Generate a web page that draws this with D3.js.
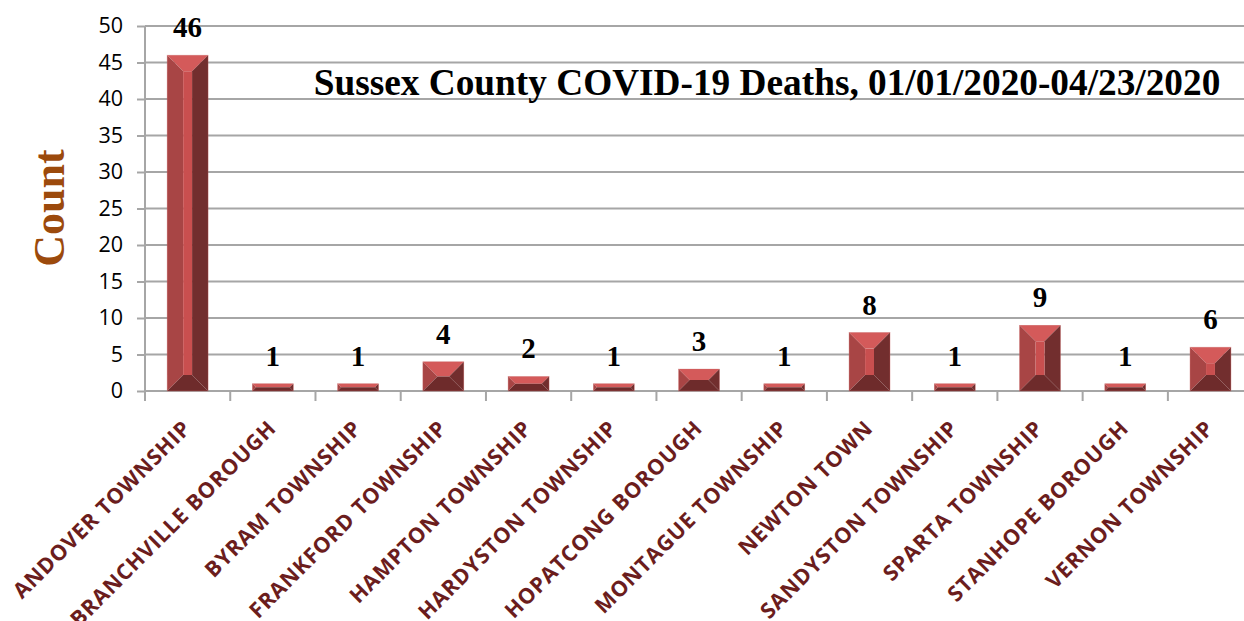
<!DOCTYPE html>
<html><head><meta charset="utf-8">
<script src="https://cdn.jsdelivr.net/npm/d3@7"></script>
<style>body{margin:0;background:#fff}svg{display:block}</style>
</head><body>
<svg id="c" width="1244" height="621"></svg>
<script>
const categories = ["ANDOVER TOWNSHIP","BRANCHVILLE BOROUGH","BYRAM TOWNSHIP","FRANKFORD TOWNSHIP","HAMPTON TOWNSHIP","HARDYSTON TOWNSHIP","HOPATCONG BOROUGH","MONTAGUE TOWNSHIP","NEWTON TOWN","SANDYSTON TOWNSHIP","SPARTA TOWNSHIP","STANHOPE BOROUGH","VERNON TOWNSHIP"];
const deaths = [46,1,1,4,2,1,3,1,8,1,9,1,6];
const yTicks = [0,5,10,15,20,25,30,35,40,45,50];
const title = "Sussex County COVID-19 Deaths, 01/01/2020-04/23/2020";
const yLabel = "Count";

const svg = d3.select("#c");
const L = 145, T = 26, B = 391, R = 145 + 13*85.24;
const x = d3.scaleBand().domain(categories).range([L, R]).paddingInner(0.52).paddingOuter(0.26);
const xb = d3.scaleBand().domain(categories).range([L, R]);
const y = d3.scaleLinear().domain([0,50]).range([B, T]);

// gridlines
svg.append("g").selectAll("line").data(yTicks.filter(d=>d>0)).join("line")
  .attr("x1", L).attr("x2", 1244).attr("y1", d=>y(d)).attr("y2", d=>y(d))
  .attr("stroke", "#a6a6a6").attr("stroke-width", 2);

// y axis
const ya = svg.append("g").attr("transform", `translate(${L},0)`)
  .call(d3.axisLeft(y).tickValues(yTicks).tickSize(8).tickPadding(14));
ya.select(".domain").attr("stroke","#a6a6a6").attr("stroke-width",2).attr("d",`M0,${T}V${B+10}`);
ya.selectAll(".tick line").attr("stroke","#a6a6a6").attr("stroke-width",2);
ya.selectAll("text").attr("font-family","'Open Sans', sans-serif").attr("font-size",21.5).attr("fill","#000");

// x axis
const xa = svg.append("g").attr("transform", `translate(0,${B})`);
xa.append("line").attr("x1",L).attr("x2",1244).attr("stroke","#a6a6a6").attr("stroke-width",2);
xa.selectAll("line.tk").data(categories.slice(1)).join("line").attr("class","tk")
  .attr("x1", d=>xb(d)).attr("x2", d=>xb(d)).attr("y1",0).attr("y2",10)
  .attr("stroke","#a6a6a6").attr("stroke-width",2);
xa.selectAll("text").data(categories).join("text")
  .attr("transform", d=>`translate(${xb(d)+xb.bandwidth()/2-6},${28}) rotate(-45)`)
  .attr("text-anchor","end").attr("dy","0.7em")
  .attr("font-family","'Open Sans', sans-serif").attr("font-weight","bold").attr("font-size",21.5)
  .attr("letter-spacing",0.8)
  .attr("fill","#6b1d1d").text(d=>d);

// bars with bevel
const g = svg.append("g");
categories.forEach((c,i)=>{
  const v = deaths[i];
  const x0 = x(c), x1 = x0 + x.bandwidth(), y0 = y(v), y1 = y(0);
  const w = x1-x0, h = y1-y0;
  const b = Math.min(16, w/2-4, h/2);
  const ix0 = x0+b, ix1 = x1-b, iy0 = y0+b, iy1 = y1-b;
  const bg = g.append("g");
  const poly = (pts, fill)=>bg.append("polygon").attr("points", pts.map(p=>p.join(",")).join(" ")).attr("fill", fill);
  poly([[x0,y0],[x1,y0],[ix1,iy0],[ix0,iy0]], "#d45a5a");
  poly([[x0,y0],[ix0,iy0],[ix0,iy1],[x0,y1]], "#a84545");
  poly([[x1,y0],[x1,y1],[ix1,iy1],[ix1,iy0]], "#722e2e");
  poly([[x0,y1],[ix0,iy1],[ix1,iy1],[x1,y1]], "#6e2b2b");
  poly([[ix0,iy0],[ix1,iy0],[ix1,iy1],[ix0,iy1]], "#c94f4f");
  bg.append("rect").attr("x",x0).attr("y",y0).attr("width",w).attr("height",h)
    .attr("fill","none").attr("stroke","#c86060").attr("stroke-width",0.6).attr("opacity",0.6);
});

// value labels
svg.append("g").selectAll("text").data(categories).join("text")
  .attr("x", d=>x(d)+x.bandwidth()/2).attr("y", (d,i)=>y(deaths[i])-18)
  .attr("text-anchor","middle").attr("font-family","'Liberation Serif', 'Times New Roman', serif")
  .attr("font-weight","bold").attr("font-size",29).attr("fill","#000")
  .text((d,i)=>deaths[i]);

// title
svg.append("text").attr("x", 767).attr("y", 95).attr("text-anchor","middle")
  .attr("font-family","'Liberation Serif', 'Times New Roman', serif").attr("font-weight","bold")
  .attr("font-size",37.3).attr("fill","#000").text(title);

// y label
svg.append("text").attr("transform","translate(64,208) rotate(-90)").attr("text-anchor","middle")
  .attr("font-family","'Liberation Serif', 'Times New Roman', serif").attr("font-weight","bold")
  .attr("font-size",44).attr("fill","#9c4a0c").text(yLabel);
</script>
</body></html>
